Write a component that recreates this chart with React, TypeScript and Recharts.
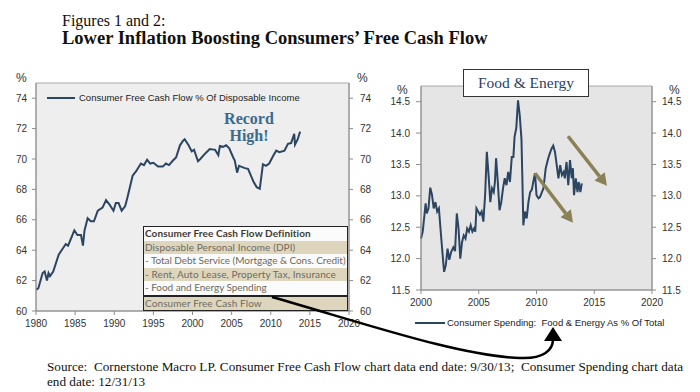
import React from 'react';
import { LineChart, Line, XAxis, YAxis, ReferenceArea, ReferenceLine } from 'recharts';

// ---- Figure 1: Consumer Free Cash Flow % of Disposable Income ----
const ffcYears = [
  1980.05, 1980.3, 1980.85, 1981.1, 1981.4, 1981.6, 1981.8, 1982.2, 1982.9, 1983.4,
  1983.8, 1984.1, 1984.9, 1985.3, 1985.75, 1986.0, 1986.2, 1986.6, 1987.0, 1987.4,
  1987.9, 1988.5, 1988.95, 1989.4, 1989.9, 1990.2, 1990.55, 1990.95, 1991.4, 1991.7,
  1992.35, 1992.8, 1993.4, 1993.8, 1994.2, 1994.6, 1995.0, 1995.6, 1996.2, 1996.6,
  1997.0, 1997.5, 1997.9, 1998.4, 1998.8, 1999.0, 1999.5, 1999.9, 2000.2, 2000.7,
  2001.0, 2001.6, 2002.2, 2002.9, 2003.3, 2003.5, 2003.9, 2004.3, 2004.7, 2005.2,
  2005.4, 2005.7, 2005.95, 2006.2, 2006.7, 2007.1, 2007.8, 2008.2, 2008.6, 2009.0,
  2009.4, 2009.8, 2010.3, 2010.7, 2011.1, 2011.75, 2012.2, 2012.6, 2013.0, 2013.1,
  2013.45, 2013.75,
];
const ffcValues = [
  61.4, 61.5, 62.5, 62.6, 62.0, 62.5, 62.3, 62.6, 63.7, 64.1,
  64.4, 64.3, 65.3, 65.0, 65.0, 64.3, 65.3, 66.1, 65.9, 65.9,
  66.6, 66.8, 67.3, 67.0, 66.6, 67.1, 67.1, 66.6, 66.9, 67.5,
  68.9, 69.2, 69.7, 69.6, 69.95, 69.7, 69.75, 69.5, 69.5, 69.7,
  69.6, 69.9, 70.1, 70.9, 71.2, 71.3, 70.9, 70.5, 70.6, 69.85,
  70.0, 70.35, 70.65, 70.6, 70.25, 70.85, 70.8, 70.9, 70.7, 70.1,
  69.9, 69.1, 69.55, 69.5, 69.4, 69.35, 68.5, 68.15, 68.05, 69.65,
  69.55, 69.7, 70.2, 70.55, 70.45, 70.55, 71.0, 71.05, 71.65, 70.95,
  71.3, 71.8,
];
const ffcYearTicks = [1980, 1985, 1990, 1995, 2000, 2005, 2010, 2015, 2020];
const ffcValueTicks = [60, 62, 64, 66, 68, 70, 72, 74];

// ---- Figure 2: Consumer Spending: Food & Energy As % Of Total ----
const feYears = [
  2000.0, 2000.15, 2000.4, 2000.5, 2000.65, 2000.8, 2000.95, 2001.1, 2001.25, 2001.4,
  2001.55, 2001.73, 2001.9, 2002.0, 2002.15, 2002.3, 2002.45, 2002.6, 2002.8, 2002.95,
  2003.1, 2003.25, 2003.4, 2003.55, 2003.7, 2003.85, 2004.0, 2004.15, 2004.3, 2004.45,
  2004.6, 2004.7, 2004.8, 2004.95, 2005.1, 2005.25, 2005.4, 2005.55, 2005.7, 2005.85,
  2006.0, 2006.15, 2006.3, 2006.4, 2006.5, 2006.65, 2006.8, 2006.95, 2007.1, 2007.25,
  2007.4, 2007.55, 2007.7, 2007.86, 2008.0, 2008.1, 2008.25, 2008.4, 2008.55, 2008.7,
  2008.77, 2008.86, 2009.0, 2009.15, 2009.3, 2009.45, 2009.6, 2009.75, 2009.87, 2010.0,
  2010.17, 2010.3, 2010.6, 2010.8, 2010.95, 2011.1, 2011.3, 2011.45, 2011.6, 2011.75,
  2011.9, 2012.05, 2012.2, 2012.35, 2012.45, 2012.6, 2012.75, 2012.9, 2013.05, 2013.15,
  2013.25, 2013.4, 2013.55, 2013.65, 2013.8, 2013.92,
];
const feValues = [
  12.32, 12.43, 12.88, 12.72, 12.8, 13.13, 13.02, 12.8, 12.9, 12.75,
  12.8, 12.38, 12.0, 11.79, 11.9, 12.16, 11.98, 12.1, 12.18, 12.12,
  12.72, 12.48, 12.0, 12.26, 12.37, 12.32, 12.48, 12.43, 12.53, 12.43,
  12.48, 12.43, 12.8, 12.75, 12.7, 12.75, 12.59, 13.01, 13.7, 13.33,
  12.9, 13.12, 13.06, 13.22, 13.6, 13.22, 12.77, 12.9, 13.12, 13.28,
  13.17, 13.38, 13.22, 13.62, 13.62, 13.94, 14.08, 14.52, 14.28, 13.9,
  13.33, 12.53, 12.75, 12.64, 12.9, 13.06, 13.1, 13.25, 13.36, 13.01,
  12.96, 12.98, 13.12, 13.44, 13.55, 13.65, 13.75, 13.8, 13.7, 13.49,
  13.28, 13.49, 13.33, 13.38, 13.28, 13.54, 13.17, 13.57, 13.28, 13.44,
  13.01, 13.28, 13.06, 13.22, 13.06, 13.2,
];
const feYearTicks = [2000, 2005, 2010, 2015, 2020];
const feValueTicks = [11.5, 12.0, 12.5, 13.0, 13.5, 14.0, 14.5];

// Trend arrows (start year, start value, end year, end value)
const trendArrows = [
  [2009.87, 13.36, 2013.16, 12.57],
  [2012.73, 13.95, 2016.1, 13.16],
];

const tableRows = [
  { text: 'Consumer Free Cash Flow Definition', kind: 'header' },
  { text: 'Disposable Personal Income (DPI)', kind: 'tan' },
  { text: '- Total Debt Service (Mortgage & Cons. Credit)', kind: 'white' },
  { text: '- Rent, Auto Lease, Property Tax, Insurance', kind: 'tan' },
  { text: '- Food and Energy Spending', kind: 'white' },
  { text: 'Consumer Free Cash Flow', kind: 'total' },
];

const ffcData = ffcYears.map((y, i) => ({ year: y, value: ffcValues[i] }));
const feData = feYears.map((y, i) => ({ year: y, value: feValues[i] }));

const LINE = '#2c4562';
const AXIS = '#8c8c8c';
const TXT = '#333333';
const ARROW = '#8a8156';
const SANS = '"Liberation Sans", Arial, sans-serif';
const SERIF = '"Liberation Serif", "Times New Roman", serif';
const tickStyle = { fontSize: 10, fill: TXT, fontFamily: SANS };

const ArrowShape = (props: any) => {
  const { x1, y1, x2, y2 } = props;
  if ([x1, y1, x2, y2].some((v) => typeof v !== 'number')) return null;
  const ang = Math.atan2(y2 - y1, x2 - x1);
  const L = 12;
  const W = 6.5;
  const bx = x2 - L * Math.cos(ang);
  const by = y2 - L * Math.sin(ang);
  const px = -Math.sin(ang) * W;
  const py = Math.cos(ang) * W;
  return (
    <g>
      <line x1={x1} y1={y1} x2={bx} y2={by} stroke={ARROW} strokeWidth={3.5} />
      <polygon points={`${x2},${y2} ${bx + px},${by + py} ${bx - px},${by - py}`} fill={ARROW} />
    </g>
  );
};

const abs = (left: number, top: number, extra: React.CSSProperties = {}): React.CSSProperties => ({
  position: 'absolute',
  left,
  top,
  whiteSpace: 'nowrap',
  ...extra,
});

export default function App() {
  return (
    <div style={{ position: 'absolute', left: 0, top: 0, width: 700, height: 392, background: '#ffffff', overflow: 'hidden' }}>
      {/* Titles */}
      <div style={abs(62, 12, { fontFamily: SERIF, fontSize: 16, color: '#111', lineHeight: '18px' })}>Figures 1 and 2:</div>
      <div style={abs(62, 28, { fontFamily: SERIF, fontSize: 18.5, fontWeight: 'bold', color: '#111', lineHeight: '20px' })}>
        Lower Inflation Boosting Consumers’ Free Cash Flow
      </div>

      {/* Left chart */}
      <div style={abs(0, 0)}>
        <LineChart width={400} height={345} data={ffcData} margin={{ top: 83, right: 11, left: 6, bottom: 4 }}>
          <XAxis
            dataKey="year"
            type="number"
            domain={[1980, 2020]}
            ticks={ffcYearTicks}
            height={30}
            tickSize={4}
            tickMargin={5}
            stroke={AXIS}
            tick={tickStyle}
            interval={0}
          />
          <YAxis yAxisId="l" orientation="left" width={30} domain={[60, 75]} allowDataOverflow ticks={ffcValueTicks} tickSize={4} tickMargin={5} stroke={AXIS} tick={tickStyle} interval={0} />
          <YAxis yAxisId="r" orientation="right" width={40} domain={[60, 75]} allowDataOverflow ticks={ffcValueTicks} tickSize={4} tickMargin={7} stroke={AXIS} tick={tickStyle} interval={0} />
          <ReferenceArea yAxisId="l" x1={1980} x2={2020} y1={60} y2={75} fill="#eeeeee" fillOpacity={1} stroke="#a8a8a8" strokeWidth={1} ifOverflow="visible" />
          <Line yAxisId="r" dataKey="value" type="linear" stroke="none" strokeOpacity={0} dot={false} activeDot={false} legendType="none" isAnimationActive={false} />
          <Line yAxisId="l" dataKey="value" type="linear" stroke={LINE} strokeWidth={2} dot={false} isAnimationActive={false} />
        </LineChart>
      </div>

      {/* Right chart */}
      <div style={abs(370, 0)}>
        <LineChart width={330} height={330} data={feData} margin={{ top: 86, right: 8, left: 16, bottom: 15 }}>
          <XAxis
            dataKey="year"
            type="number"
            domain={[2000, 2020]}
            ticks={feYearTicks}
            height={25}
            tickSize={4}
            tickMargin={5}
            stroke={AXIS}
            tick={tickStyle}
            interval={0}
          />
          <YAxis yAxisId="l" orientation="left" width={35} domain={[11.5, 14.75]} allowDataOverflow ticks={feValueTicks} tickSize={5} tickMargin={6} stroke={AXIS} tick={tickStyle} interval={0} tickFormatter={(v: number) => v.toFixed(1)} />
          <YAxis yAxisId="r" orientation="right" width={40} domain={[11.5, 14.75]} allowDataOverflow ticks={feValueTicks} tickSize={4} tickMargin={6} stroke={AXIS} tick={tickStyle} interval={0} tickFormatter={(v: number) => v.toFixed(1)} />
          <ReferenceArea yAxisId="l" x1={2000} x2={2020} y1={11.5} y2={14.75} fill="#e5e5e5" fillOpacity={1} stroke="#a8a8a8" strokeWidth={1} ifOverflow="visible" />
          <Line yAxisId="r" dataKey="value" type="linear" stroke="none" strokeOpacity={0} dot={false} activeDot={false} legendType="none" isAnimationActive={false} />
          <Line yAxisId="l" dataKey="value" type="linear" stroke={LINE} strokeWidth={2} dot={false} isAnimationActive={false} />
          {trendArrows.map((a, i) => (
            <ReferenceLine
              key={i}
              yAxisId="l"
              segment={[{ x: a[0], y: a[1] }, { x: a[2], y: a[3] }]}
              ifOverflow="visible"
              shape={ArrowShape}
            />
          ))}
        </LineChart>
      </div>

      {/* % unit labels */}
      <div style={abs(16, 72, { fontFamily: SANS, fontSize: 12, color: TXT, lineHeight: '12px' })}>%</div>
      <div style={abs(357, 72, { fontFamily: SANS, fontSize: 12, color: TXT, lineHeight: '12px' })}>%</div>
      <div style={abs(397, 84, { fontFamily: SANS, fontSize: 12, color: TXT, lineHeight: '12px' })}>%</div>
      <div style={abs(669, 84, { fontFamily: SANS, fontSize: 12, color: TXT, lineHeight: '12px' })}>%</div>

      {/* Left legend */}
      <div style={abs(47, 97, { width: 28, height: 2, background: LINE })} />
      <div style={abs(79, 91, { fontFamily: SANS, fontSize: 9.5, color: '#222', lineHeight: '13px' })}>
        Consumer Free Cash Flow % Of Disposable Income
      </div>

      {/* Record High */}
      <div style={abs(209, 111, { width: 80, textAlign: 'center', fontFamily: SERIF, fontSize: 16, fontWeight: 'bold', color: '#3a6b8d', lineHeight: '16px' })}>
        Record
      </div>
      <div style={abs(209, 128, { width: 80, textAlign: 'center', fontFamily: SERIF, fontSize: 16, fontWeight: 'bold', color: '#3a6b8d', lineHeight: '16px' })}>
        High!
      </div>

      {/* Definition table */}
      <div
        style={abs(143, 226, {
          width: 203,
          border: '1px solid #222',
          background: '#fff',
          fontFamily: 'Lato, sans-serif',
          fontSize: 10,
          lineHeight: '13.5px',
        })}
      >
        {tableRows.map((r, i) => (
          <div
            key={i}
            style={{
              paddingLeft: 1,
              whiteSpace: 'nowrap',
              fontWeight: r.kind === 'header' ? 'bold' : 'normal',
              color: r.kind === 'header' ? '#3d3a33' : '#6e6a5e',
              background: r.kind === 'tan' || r.kind === 'total' ? '#ddd6bd' : '#fbfbfb',
              borderTop: r.kind === 'total' ? '2px solid #222' : 'none',
              letterSpacing: r.kind === 'white' ? -0.05 : 0.1,
            }}
          >
            {r.text}
          </div>
        ))}
      </div>

      {/* Food & Energy box */}
      <div
        style={abs(463, 69, {
          width: 124,
          height: 26,
          border: '1px solid #333',
          background: '#fff',
          fontFamily: SERIF,
          fontSize: 15.5,
          color: '#2d3f5f',
          textAlign: 'center',
          lineHeight: '26px',
        })}
      >
        Food &amp; Energy
      </div>

      {/* Right legend */}
      <div style={abs(415, 322, { width: 30, height: 2, background: LINE })} />
      <div style={abs(447, 316, { fontFamily: SANS, fontSize: 9.5, color: '#222', lineHeight: '13px' })}>
        Consumer Spending:&nbsp; Food &amp; Energy As % Of Total
      </div>

      {/* Connector arrow */}
      <svg width={700} height={392} style={{ position: 'absolute', left: 0, top: 0, pointerEvents: 'none' }}>
        <path d="M272,297 C370,325 460,356 520,358 C544,359 553,350 553,339" fill="none" stroke="#000" strokeWidth={2.5} />
        <polygon points="553,327 544,341 562,341" fill="#000" />
      </svg>

      {/* Source */}
      <div style={abs(47, 359, { fontFamily: SERIF, fontSize: 13.2, color: '#111', lineHeight: '15px' })}>
        Source:&nbsp; Cornerstone Macro LP. Consumer Free Cash Flow chart data end date: 9/30/13;&nbsp; Consumer Spending chart data
        <br />
        end date: 12/31/13
      </div>
    </div>
  );
}
